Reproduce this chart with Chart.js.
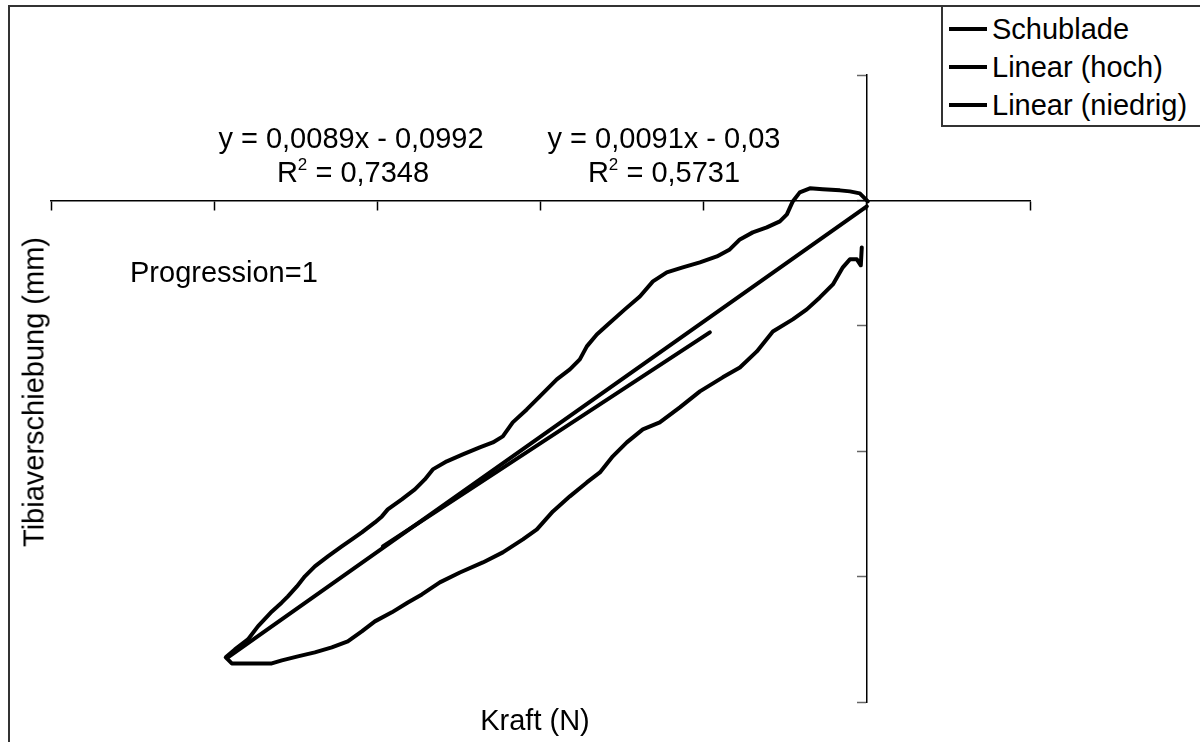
<!DOCTYPE html>
<html lang="de">
<head>
    <meta charset="UTF-8">
    <title>Schublade</title>
    <script src="https://cdn.jsdelivr.net/npm/chart.js"></script>
    <style>
        body { margin: 0; background: #fff; }
        #wrap { position: relative; width: 1200px; height: 742px; overflow: hidden;
                font-family: "Liberation Sans", Arial, sans-serif; color: #000; }
        #frame { position: absolute; left: 8px; top: 5px; width: 1300px; height: 800px;
                 border-left: 2px solid #333; border-top: 2px solid #333; }
        canvas { position: absolute; left: 0; top: 0; }
        .txt { position: absolute; font-size: 29px; line-height: 1; white-space: nowrap; }
        .mid { transform: translateX(-50%); text-align: center; }
        .txt sup { font-size: 17px; vertical-align: 12px; line-height: 0; }
        #legend { position: absolute; left: 941px; top: 5px; width: 300px; height: 118px;
                  border: 2px solid #333; background: #fff; }
        .row { position: absolute; left: 6px; height: 30px; font-size: 29px; line-height: 30px; }
        .row i { display: inline-block; width: 38px; height: 4px; background: #000;
                 vertical-align: middle; margin-right: 5px; position: relative; top: -2px; }
    </style>
</head>
<body>
<div id="wrap">
    <div id="frame"></div>
    <canvas id="myChart" width="1200" height="742"></canvas>

    <!-- Beschriftungen -->
    <div class="txt mid" style="left:351px; top:124px;">y = 0,0089x - 0,0992</div>
    <div class="txt mid" style="left:353px; top:158px;">R<sup>2</sup> = 0,7348</div>
    <div class="txt mid" style="left:664px; top:124px;">y = 0,0091x - 0,03</div>
    <div class="txt mid" style="left:664px; top:158px;">R<sup>2</sup> = 0,5731</div>
    <div class="txt" style="left:130px; top:258px;">Progression=1</div>
    <div class="txt mid" style="left:535px; top:706px;">Kraft (N)</div>
    <div class="txt" style="left:34px; top:392px; transform: translate(-50%,-50%) rotate(-90deg);">Tibiaverschiebung (mm)</div>

    <div id="legend"></div>
</div>

<script>
    // Messkurve (Schleife): Kraft in N, Verschiebung in mm
    var schubladeKraft = [
        -0.31, -0.37, -0.61, -1.04, -1.47, -2.08, -2.88, -3.68, -4.54, -5.76,
        -6.74, -7.78, -8.83, -10.23, -11.46, -12.69, -13.73, -14.71, -15.57, -16.36,
        -17.16, -18.20, -19.24, -20.22, -21.08, -22.31, -23.53, -24.94, -26.17, -27.27,
        -28.13, -29.11, -30.15, -30.95, -31.81, -32.79, -33.83, -34.87, -35.85, -36.47,
        -38.12, -38.92, -39.29,
        -38.73, -37.93, -37.32, -36.46, -35.85, -35.48, -34.93, -34.44, -33.83, -33.03,
        -32.18, -31.56, -30.95, -30.15, -29.72, -29.36, -28.50, -27.70, -27.09, -26.60,
        -25.74, -24.76, -23.72, -22.92, -22.31, -21.70, -20.84, -20.04, -19.00, -18.20,
        -17.59, -17.16, -16.55, -15.87, -14.83, -13.91, -13.11, -12.26, -11.28, -10.23,
        -9.19, -8.40, -7.78, -6.99, -6.13, -5.33, -4.90, -4.54, -4.11, -3.49,
        -2.70, -1.65, -1.04, -0.43, 0.06
    ];
    var schubladeWeg = [
        -0.0375, -0.0518, -0.0470, -0.0470, -0.0534, -0.0670, -0.0774, -0.0869, -0.0949, -0.1045,
        -0.1204, -0.1332, -0.1411, -0.1523, -0.1651, -0.1770, -0.1826, -0.1930, -0.2041, -0.2169,
        -0.2249, -0.2360, -0.2480, -0.2624, -0.2703, -0.2807, -0.2887, -0.2967, -0.3046, -0.3142,
        -0.3206, -0.3285, -0.3357, -0.3437, -0.3517, -0.3565, -0.3604, -0.3636, -0.3668, -0.3692,
        -0.3692, -0.3692, -0.3644,
        -0.3581, -0.3501, -0.3397, -0.3278, -0.3206, -0.3158, -0.3078, -0.2998, -0.2919, -0.2839,
        -0.2759, -0.2703, -0.2648, -0.2568, -0.2520, -0.2464, -0.2384, -0.2305, -0.2225, -0.2145,
        -0.2081, -0.2026, -0.1970, -0.1930, -0.1882, -0.1770, -0.1667, -0.1563, -0.1427, -0.1348,
        -0.1268, -0.1164, -0.1069, -0.0989, -0.0869, -0.0766, -0.0646, -0.0574, -0.0534, -0.0494,
        -0.0447, -0.0391, -0.0311, -0.0255, -0.0215, -0.0167, -0.0112, -0.0008, 0.0064, 0.0096,
        0.0088, 0.0080, 0.0072, 0.0056, -0.0008
    ];

    // Trendlinien
    var hochKraft = [-39.16, 0];
    var hochWeg = [-0.3644, -0.0048];
    var niedrigKraft = [-29.66, -9.62];
    var niedrigWeg = [-0.2759, -0.1053];

    var serienNamen = ['Schublade', 'Linear (hoch)', 'Linear (niedrig)'];

    // Achsen
    var kraftMin = -50, kraftMax = 10, kraftSchritt = 10;
    var wegMin = -0.4, wegMax = 0.1, wegSchritt = 0.1;

    function punkte(xs, ys) {
        var p = [];
        for (var i = 0; i < xs.length; i++) p.push({x: xs[i], y: ys[i]});
        return p;
    }

    var linie = {
        showLine: true, borderColor: '#000', backgroundColor: '#000', borderWidth: 4,
        pointRadius: 0, borderJoinStyle: 'round', borderCapStyle: 'round', tension: 0
    };

    var ctx = document.getElementById('myChart').getContext('2d');
    var myChart = new Chart(ctx, {
        type: 'scatter',
        data: {
            datasets: [
                Object.assign({label: serienNamen[0], data: punkte(schubladeKraft, schubladeWeg)}, linie),
                Object.assign({label: serienNamen[1], data: punkte(hochKraft, hochWeg)}, linie),
                Object.assign({label: serienNamen[2], data: punkte(niedrigKraft, niedrigWeg)}, linie)
            ]
        },
        options: {
            responsive: false,
            animation: false,
            devicePixelRatio: 1,
            layout: { padding: { left: 51, top: 75, right: 170, bottom: 40 } },
            plugins: { legend: { display: false }, tooltip: { enabled: false } },
            scales: {
                x: {
                    type: 'linear', min: kraftMin, max: kraftMax,
                    position: { y: 0 },
                    ticks: { stepSize: kraftSchritt, display: false },
                    grid: { drawOnChartArea: false, drawTicks: true, tickLength: 9, tickColor: '#000', tickWidth: 1.5 },
                    border: { display: true, color: '#000', width: 1.5 }
                },
                y: {
                    type: 'linear', min: wegMin, max: wegMax,
                    position: { x: 0 },
                    ticks: { stepSize: wegSchritt, display: false },
                    grid: { drawOnChartArea: false, drawTicks: true, tickLength: 9, tickColor: '#666', tickWidth: 1.5 },
                    border: { display: true, color: '#000', width: 1.5 }
                }
            }
        }
    });

    // Legende aus den Datensaetzen
    var leg = document.getElementById('legend');
    myChart.data.datasets.forEach(function(ds, i) {
        var r = document.createElement('div');
        r.className = 'row';
        r.style.top = (7 + i * 38) + 'px';
        r.innerHTML = '<i></i>' + ds.label;
        leg.appendChild(r);
    });
</script>
</body>
</html>
